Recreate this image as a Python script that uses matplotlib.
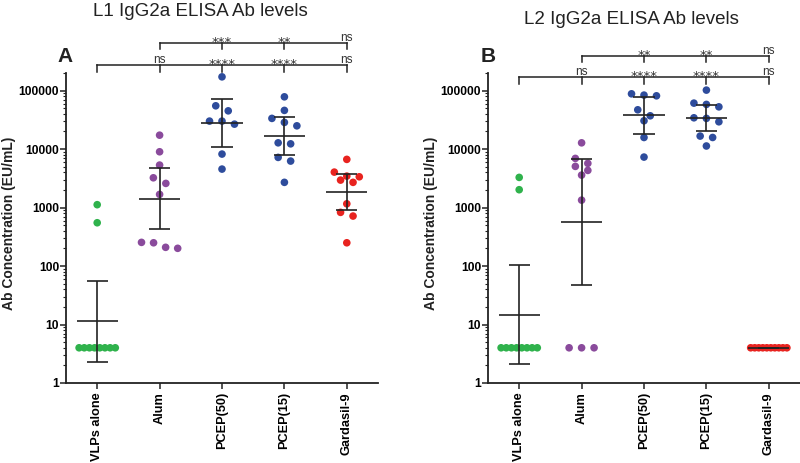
import numpy as np
import matplotlib
matplotlib.use('Agg')
import matplotlib.pyplot as plt
import matplotlib.transforms as mtransforms
from matplotlib.ticker import LogLocator, NullFormatter

plt.rcParams['font.family'] = ['Liberation Sans', 'DejaVu Sans']

groups = ['VLPs alone', 'Alum', 'PCEP(50)', 'PCEP(15)', 'Gardasil-9']
colors = ['#2fb24c', '#8a4b9c', '#2e4c9c', '#2e4c9c', '#e8231f']

# L1 IgG2a (panel A), EU/mL
l1_vlps = [1120, 550, 4, 4, 4, 4, 4, 4, 4, 4]
l1_alum = [17300, 9000, 5330, 3230, 2590, 1680, 254, 250, 209, 201]
l1_pcep50 = [172000, 55000, 45100, 30100, 30100, 26700, 8220, 4550]
l1_pcep15 = [78300, 45900, 33500, 28600, 25000, 12800, 12300, 7210, 6240, 2700]
l1_gardasil = [6670, 4040, 3450, 3360, 2950, 2700, 1160, 828, 716, 250]
l1_gmean = [11.5, 1400, 28100, 16500, 1840]
l1_ci_lo = [2.31, 424, 10950, 7900, 896]
l1_ci_hi = [56, 4680, 71600, 35200, 3780]
l1_sig_top = ['***', '**', 'ns']             # vs Alum
l1_sig_bottom = ['ns', '****', '****', 'ns']  # vs VLPs alone

# L2 IgG2a (panel B), EU/mL
l2_vlps = [3280, 2020, 4, 4, 4, 4, 4, 4, 4, 4]
l2_alum = [12800, 6930, 5700, 5060, 4320, 3590, 1340, 4, 4, 4]
l2_pcep50 = [88200, 83800, 81500, 47000, 37100, 30500, 15800, 7300]
l2_pcep15 = [102000, 61100, 58100, 52800, 34300, 33500, 29300, 16700, 15800, 11300]
l2_gardasil = [4, 4, 4, 4, 4, 4, 4, 4, 4, 4]
l2_gmean = [14.4, 559, 37700, 33900, 4]
l2_ci_lo = [2.09, 47.3, 18000, 20600, 4]
l2_ci_hi = [103, 6740, 78400, 56500, 4]
l2_sig_top = ['**', '**', 'ns']
l2_sig_bottom = ['ns', '****', '****', 'ns']

yticks = [1, 10, 100, 1000, 10000, 100000]
ytick_labels = ['1', '10', '100', '1000', '10000', '100000']

line_col = '#222222'
sig_col = '#333333'


def swarm_offsets(vals, gap=0.13, step=0.2, max_half=0.29):
    # group close values into rows and spread each row around the centre
    logs = np.log10(vals)
    order = np.argsort(-logs, kind='stable')
    rows = []
    for i in order:
        if rows and rows[-1][0] - logs[i] < gap:
            rows[-1][1].append(i)
        else:
            rows.append([logs[i], [i]])
    offsets = np.zeros(len(vals))
    for _, idx in rows:
        n = len(idx)
        s = step if n < 2 else min(step, 2 * max_half / (n - 1))
        for k, i in enumerate(idx):
            offsets[i] = (k - (n - 1) / 2) * s
    return offsets


def sig_label(ax, trans, x, y, text):
    dy = 1.5 if text == 'ns' else -2.2
    fam = 'Liberation Sans' if text == 'ns' else 'DejaVu Sans'
    size = 8.5 if text == 'ns' else 9.5
    ax.annotate(text, xy=(x, y), xycoords=trans, xytext=(0, dy),
                textcoords='offset points', ha='center', va='baseline',
                fontsize=size, family=fam, color=sig_col, annotation_clip=False)


def draw_panel(ax, data, gmean, lo, hi, sig_top, sig_bottom, top_y, bottom_y):
    for i, vals in enumerate(data):
        off = swarm_offsets(vals)
        ax.scatter(i + off, vals, s=30, color=colors[i], edgecolors='none',
                   zorder=2, clip_on=False)

    x = np.arange(len(gmean))
    ax.vlines(x, lo, hi, color=line_col, lw=1.2, zorder=3)
    ax.hlines(lo, x - 0.17, x + 0.17, color=line_col, lw=1.2, zorder=3)
    ax.hlines(hi, x - 0.17, x + 0.17, color=line_col, lw=1.2, zorder=3)
    ax.hlines(gmean, x - 0.33, x + 0.33, color=line_col, lw=1.2, zorder=3)

    ax.set_yscale('log')
    ax.set_ylim(1, 2e5)
    ax.set_xlim(-0.5, 4.5)
    ax.set_yticks(yticks)
    ax.set_yticklabels(ytick_labels)
    ax.yaxis.set_minor_locator(LogLocator(base=10, subs=np.arange(2, 10)))
    ax.yaxis.set_minor_formatter(NullFormatter())
    ax.set_xticks(x)
    ax.set_xticklabels(groups, rotation=90)
    for lbl in ax.get_yticklabels():
        lbl.set_fontweight('bold')
        lbl.set_fontsize(8.7)
    for lbl in ax.get_xticklabels():
        lbl.set_fontweight('bold')
        lbl.set_fontsize(9.2)
    ax.tick_params(axis='y', which='major', length=4, width=1.1, pad=1, color=line_col)
    ax.tick_params(axis='y', which='minor', length=2, width=0.8, color=line_col)
    ax.tick_params(axis='x', length=4, width=1.1, pad=2.5, color=line_col)

    for s in ['top', 'right']:
        ax.spines[s].set_visible(False)
    for s in ['left', 'bottom']:
        ax.spines[s].set_linewidth(1.3)
        ax.spines[s].set_color(line_col)

    # significance brackets
    trans = mtransforms.blended_transform_factory(ax.transData, ax.transAxes)
    tick = 0.021
    ax.plot([0, 4], [bottom_y, bottom_y], color=line_col, lw=1.1,
            transform=trans, clip_on=False)
    for xi in range(5):
        ax.plot([xi, xi], [bottom_y, bottom_y - tick], color=line_col, lw=1.1,
                transform=trans, clip_on=False)
    for xi, t in zip(range(1, 5), sig_bottom):
        sig_label(ax, trans, xi, bottom_y, t)

    ax.plot([1, 4], [top_y, top_y], color=line_col, lw=1.1,
            transform=trans, clip_on=False)
    for xi in range(1, 5):
        ax.plot([xi, xi], [top_y, top_y - tick], color=line_col, lw=1.1,
                transform=trans, clip_on=False)
    for xi, t in zip(range(2, 5), sig_top):
        sig_label(ax, trans, xi, top_y, t)


fig = plt.figure(figsize=(8, 4.63), dpi=100)
ax1 = fig.add_axes([0.0825, 0.1728, 0.39, 0.6695])
ax2 = fig.add_axes([0.61, 0.1728, 0.39, 0.6695])

draw_panel(ax1, [l1_vlps, l1_alum, l1_pcep50, l1_pcep15, l1_gardasil],
           l1_gmean, l1_ci_lo, l1_ci_hi, l1_sig_top, l1_sig_bottom, 1.098, 1.025)
draw_panel(ax2, [l2_vlps, l2_alum, l2_pcep50, l2_pcep15, l2_gardasil],
           l2_gmean, l2_ci_lo, l2_ci_hi, l2_sig_top, l2_sig_bottom, 1.056, 0.986)

fig.text(200 / 800, 1 - 11 / 463, 'L1 IgG2a ELISA Ab levels', ha='center',
         va='center', fontsize=13.5, color='#222222')
fig.text(631 / 800, 1 - 20 / 463, 'L2 IgG2a ELISA Ab levels', ha='center',
         va='center', fontsize=13.5, color='#222222')
fig.text(65 / 800, 1 - 57 / 463, 'A', ha='center', va='center',
         fontsize=15, fontweight='bold', color='#222222')
fig.text(488 / 800, 1 - 57 / 463, 'B', ha='center', va='center',
         fontsize=15, fontweight='bold', color='#222222')
fig.text(9 / 800, 1 - 223 / 463, 'Ab Concentration (EU/mL)', rotation=90,
         ha='center', va='center', fontsize=10, fontweight='bold', color='#222222')
fig.text(431 / 800, 1 - 223 / 463, 'Ab Concentration (EU/mL)', rotation=90,
         ha='center', va='center', fontsize=10, fontweight='bold', color='#222222')

fig.savefig('out.png', dpi=100)
